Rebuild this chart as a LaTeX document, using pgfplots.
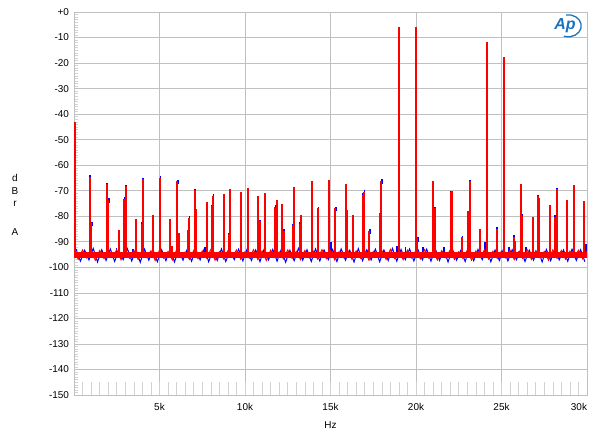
\documentclass[border=0pt]{standalone}
\usepackage{pgfplots}
\pgfplotsset{compat=1.18}
\usepackage{pgfplotstable}
\usepackage{fontspec}
\setmainfont{Liberation Sans}
\definecolor{apblue}{RGB}{25,115,190}
\definecolor{gridgray}{RGB}{192,192,192}
\definecolor{minorgray}{RGB}{210,210,210}
\definecolor{tracered}{RGB}{255,0,0}
\definecolor{traceblue}{RGB}{0,0,255}

\pgfplotstableread[row sep=\\]{
f dB\\
0 -93.6\\ 0.25 -96.8\\ 0.5 -93.2\\ 0.75 -96.3\\ 1 -94.0\\ 1.25 -97.2\\ 1.5 -93.4\\ 1.75 -96.6\\ 2 -93.9\\ 2.25 -96.1\\
2.5 -93.1\\ 2.75 -97.0\\ 3 -93.7\\ 3.25 -96.4\\ 3.5 -93.3\\ 3.75 -96.9\\ 4 -94.1\\ 4.25 -96.2\\ 4.5 -93.5\\ 4.75 -97.3\\
5 -93.3\\ 5.25 -96.5\\ 5.5 -93.8\\ 5.75 -97.1\\ 6 -93.2\\ 6.25 -96.2\\ 6.5 -94.0\\ 6.75 -96.9\\ 7 -93.4\\ 7.25 -96.6\\
7.5 -93.6\\ 7.75 -96.3\\ 8 -93.1\\ 8.25 -97.2\\ 8.5 -93.9\\ 8.75 -96.7\\ 9 -93.5\\ 9.25 -96.0\\ 9.5 -93.2\\ 9.75 -96.8\\
10 -93.9\\ 10.25 -96.4\\ 10.5 -93.1\\ 10.75 -96.9\\ 11 -93.6\\ 11.25 -97.3\\ 11.5 -93.3\\ 11.75 -96.1\\ 12 -94.0\\ 12.25 -96.7\\
12.5 -93.2\\ 12.75 -96.5\\ 13 -93.8\\ 13.25 -97.0\\ 13.5 -93.4\\ 13.75 -96.3\\ 14 -93.7\\ 14.25 -96.8\\ 14.5 -93.1\\ 14.75 -96.6\\
15 -93.5\\ 15.25 -97.1\\ 15.5 -93.9\\ 15.75 -96.2\\ 16 -93.2\\ 16.25 -96.8\\ 16.5 -93.6\\ 16.75 -96.4\\ 17 -93.3\\ 17.25 -97.2\\
17.5 -93.8\\ 17.75 -96.1\\ 18 -93.4\\ 18.25 -96.9\\ 18.5 -93.0\\ 18.75 -96.5\\ 19 -93.7\\ 19.25 -97.0\\ 19.5 -93.3\\ 19.75 -96.3\\
20 -93.4\\ 20.25 -96.7\\ 20.5 -93.1\\ 20.75 -96.4\\ 21 -93.8\\ 21.25 -97.1\\ 21.5 -93.5\\ 21.75 -96.2\\ 22 -93.2\\ 22.25 -96.9\\
22.5 -93.9\\ 22.75 -96.6\\ 23 -93.3\\ 23.25 -97.2\\ 23.5 -93.6\\ 23.75 -96.1\\ 24 -93.2\\ 24.25 -96.8\\ 24.5 -93.7\\ 24.75 -96.5\\
25 -93.6\\ 25.25 -96.3\\ 25.5 -93.3\\ 25.75 -97.0\\ 26 -93.9\\ 26.25 -96.6\\ 26.5 -93.1\\ 26.75 -96.9\\ 27 -93.5\\ 27.25 -96.2\\
27.5 -93.8\\ 27.75 -97.2\\ 28 -93.2\\ 28.25 -96.5\\ 28.5 -93.4\\ 28.75 -96.8\\ 29 -93.7\\ 29.25 -96.1\\ 29.5 -93.3\\ 29.75 -96.7\\
30 -93.5\\
}\redfloor

\pgfplotstableread[row sep=\\]{
f dB\\
0.125 -92.9\\ 0.375 -97.6\\ 0.625 -93.3\\ 0.875 -97.1\\ 1.125 -92.6\\ 1.375 -97.9\\ 1.625 -93.1\\ 1.875 -97.3\\ 2.125 -92.8\\ 2.375 -97.7\\
2.625 -93.4\\ 2.875 -97.0\\ 3.125 -92.7\\ 3.375 -97.5\\ 3.625 -93.0\\ 3.875 -98.0\\ 4.125 -92.9\\ 4.375 -97.2\\ 4.625 -93.2\\ 4.875 -97.8\\
5.125 -93.1\\ 5.375 -97.4\\ 5.625 -92.7\\ 5.875 -97.9\\ 6.125 -93.3\\ 6.375 -97.2\\ 6.625 -92.9\\ 6.875 -97.6\\ 7.125 -93.0\\ 7.375 -97.1\\
7.625 -92.6\\ 7.875 -97.8\\ 8.125 -93.2\\ 8.375 -97.3\\ 8.625 -92.8\\ 8.875 -97.7\\ 9.125 -93.4\\ 9.375 -97.0\\ 9.625 -92.9\\ 9.875 -97.5\\
10.125 -92.8\\ 10.375 -97.3\\ 10.625 -93.2\\ 10.875 -97.8\\ 11.125 -92.7\\ 11.375 -97.1\\ 11.625 -93.0\\ 11.875 -97.6\\ 12.125 -92.9\\ 12.375 -98.0\\
12.625 -93.3\\ 12.875 -97.4\\ 13.125 -92.6\\ 13.375 -97.2\\ 13.625 -93.1\\ 13.875 -97.7\\ 14.125 -92.8\\ 14.375 -97.5\\ 14.625 -93.2\\ 14.875 -97.0\\
15.125 -93.0\\ 15.375 -97.7\\ 15.625 -92.8\\ 15.875 -97.2\\ 16.125 -93.3\\ 16.375 -97.9\\ 16.625 -92.7\\ 16.875 -97.4\\ 17.125 -93.1\\ 17.375 -97.1\\
17.625 -92.9\\ 17.875 -97.8\\ 18.125 -93.2\\ 18.375 -97.3\\ 18.625 -92.6\\ 18.875 -97.6\\ 19.125 -93.0\\ 19.375 -97.0\\ 19.625 -92.8\\ 19.875 -97.5\\
20.125 -93.2\\ 20.375 -97.1\\ 20.625 -92.9\\ 20.875 -97.6\\ 21.125 -92.7\\ 21.375 -97.3\\ 21.625 -93.1\\ 21.875 -97.9\\ 22.125 -92.8\\ 22.375 -97.2\\
22.625 -93.3\\ 22.875 -97.7\\ 23.125 -92.6\\ 23.375 -97.4\\ 23.625 -93.0\\ 23.875 -97.0\\ 24.125 -92.9\\ 24.375 -97.8\\ 24.625 -93.2\\ 24.875 -97.3\\
25.125 -92.7\\ 25.375 -97.5\\ 25.625 -93.1\\ 25.875 -97.0\\ 26.125 -92.9\\ 26.375 -97.7\\ 26.625 -93.3\\ 26.875 -97.2\\ 27.125 -92.8\\ 27.375 -97.9\\
27.625 -93.0\\ 27.875 -97.4\\ 28.125 -92.6\\ 28.375 -97.1\\ 28.625 -93.2\\ 28.875 -97.6\\ 29.125 -92.9\\ 29.375 -97.3\\ 29.625 -93.1\\ 29.875 -97.8\\
}\bluefloor

% red spikes: each a vertical segment (f,-95)--(f,peak), separated by nan
\pgfplotstableread[row sep=\\]{
f dB\\
0.05 -95\\ 0.05 -43.0\\ 0.05 nan\\
0.91 -95\\ 0.91 -64.5\\ 0.91 nan\\
1.01 -95\\ 1.01 -82.8\\ 1.01 nan\\
1.93 -95\\ 1.93 -67.5\\ 1.93 nan\\
2.01 -95\\ 2.01 -73.6\\ 2.01 nan\\
2.62 -95\\ 2.62 -85.4\\ 2.62 nan\\
2.93 -95\\ 2.93 -73.2\\ 2.93 nan\\
3.04 -95\\ 3.04 -68.3\\ 3.04 nan\\
3.63 -95\\ 3.63 -81.1\\ 3.63 nan\\
3.96 -95\\ 3.96 -83.0\\ 3.96 nan\\
4.02 -95\\ 4.02 -65.5\\ 4.02 nan\\
4.64 -95\\ 4.64 -79.5\\ 4.64 nan\\
5.04 -95\\ 5.04 -64.9\\ 5.04 nan\\
5.64 -95\\ 5.64 -80.9\\ 5.64 nan\\
5.72 -95\\ 5.72 -91.5\\ 5.72 nan\\
6.05 -95\\ 6.05 -66.2\\ 6.05 nan\\
6.13 -95\\ 6.13 -86.7\\ 6.13 nan\\
6.66 -95\\ 6.66 -85.4\\ 6.66 nan\\
6.73 -95\\ 6.73 -80.5\\ 6.73 nan\\
7.07 -95\\ 7.07 -69.7\\ 7.07 nan\\
7.15 -95\\ 7.15 -77.3\\ 7.15 nan\\
7.75 -95\\ 7.75 -74.3\\ 7.75 nan\\
8.06 -95\\ 8.06 -76.0\\ 8.06 nan\\
8.14 -95\\ 8.14 -71.9\\ 8.14 nan\\
8.77 -95\\ 8.77 -71.3\\ 8.77 nan\\
9.06 -95\\ 9.06 -87.1\\ 9.06 nan\\
9.15 -95\\ 9.15 -69.3\\ 9.15 nan\\
9.77 -95\\ 9.77 -70.6\\ 9.77 nan\\
10.17 -95\\ 10.17 -69.1\\ 10.17 nan\\
10.78 -95\\ 10.78 -72.1\\ 10.78 nan\\
10.86 -95\\ 10.86 -81.9\\ 10.86 nan\\
11.19 -95\\ 11.19 -70.9\\ 11.19 nan\\
11.78 -95\\ 11.78 -76.3\\ 11.78 nan\\
11.88 -95\\ 11.88 -73.6\\ 11.88 nan\\
12.19 -95\\ 12.19 -75.2\\ 12.19 nan\\
12.28 -95\\ 12.28 -85.7\\ 12.28 nan\\
12.81 -95\\ 12.81 -83.6\\ 12.81 nan\\
12.89 -95\\ 12.89 -68.7\\ 12.89 nan\\
13.20 -95\\ 13.20 -83.0\\ 13.20 nan\\
13.28 -95\\ 13.28 -79.5\\ 13.28 nan\\
13.89 -95\\ 13.89 -66.2\\ 13.89 nan\\
14.28 -95\\ 14.28 -76.9\\ 14.28 nan\\
14.90 -95\\ 14.90 -65.9\\ 14.90 nan\\
15.28 -95\\ 15.28 -76.9\\ 15.28 nan\\
15.88 -95\\ 15.88 -67.5\\ 15.88 nan\\
15.98 -95\\ 15.98 -77.5\\ 15.98 nan\\
16.29 -95\\ 16.29 -79.5\\ 16.29 nan\\
16.89 -95\\ 16.89 -71.6\\ 16.89 nan\\
16.97 -95\\ 16.97 -70.4\\ 16.97 nan\\
17.28 -95\\ 17.28 -85.7\\ 17.28 nan\\
17.89 -95\\ 17.89 -78.7\\ 17.89 nan\\
17.97 -95\\ 17.97 -66.1\\ 17.97 nan\\
19.00 -95\\ 19.00 -5.7\\ 19.00 nan\\
20.00 -95\\ 20.00 -5.7\\ 20.00 nan\\
20.08 -95\\ 20.08 -88.7\\ 20.08 nan\\
21.02 -95\\ 21.02 -66.2\\ 21.02 nan\\
21.10 -95\\ 21.10 -76.9\\ 21.10 nan\\
22.04 -95\\ 22.04 -70.5\\ 22.04 nan\\
22.11 -95\\ 22.11 -70.2\\ 22.11 nan\\
22.70 -95\\ 22.70 -88.3\\ 22.70 nan\\
23.03 -95\\ 23.03 -77.8\\ 23.03 nan\\
23.13 -95\\ 23.13 -66.2\\ 23.13 nan\\
23.72 -95\\ 23.72 -85.0\\ 23.72 nan\\
24.13 -95\\ 24.13 -11.8\\ 24.13 nan\\
24.73 -95\\ 24.73 -85.0\\ 24.73 nan\\
25.12 -95\\ 25.12 -17.6\\ 25.12 nan\\
25.73 -95\\ 25.73 -88.3\\ 25.73 nan\\
25.80 -95\\ 25.80 -89.5\\ 25.80 nan\\
26.12 -95\\ 26.12 -67.4\\ 26.12 nan\\
26.21 -95\\ 26.21 -79.8\\ 26.21 nan\\
26.82 -95\\ 26.82 -80.4\\ 26.82 nan\\
27.13 -95\\ 27.13 -72.1\\ 27.13 nan\\
27.21 -95\\ 27.21 -73.0\\ 27.21 nan\\
27.82 -95\\ 27.82 -75.6\\ 27.82 nan\\
28.13 -95\\ 28.13 -80.1\\ 28.13 nan\\
28.23 -95\\ 28.23 -69.3\\ 28.23 nan\\
28.83 -95\\ 28.83 -73.6\\ 28.83 nan\\
29.24 -95\\ 29.24 -67.8\\ 29.24 nan\\
29.83 -95\\ 29.83 -74.0\\ 29.83 nan\\
}\redspikes

% blue channel: small caps just above the red tops, plus spurs near the floor
\pgfplotstableread[row sep=\\]{
f dB\\
0.93 -66.0\\ 0.93 -64.0\\ 0.93 nan\\
1.03 -84.0\\ 1.03 -82.2\\ 1.03 nan\\
1.95 -69.0\\ 1.95 -67.0\\ 1.95 nan\\
2.03 -75.0\\ 2.03 -73.0\\ 2.03 nan\\
2.48 -95\\ 2.48 -92.3\\ 2.48 nan\\
2.95 -74.5\\ 2.95 -72.6\\ 2.95 nan\\
3.06 -69.5\\ 3.06 -67.8\\ 3.06 nan\\
3.47 -95\\ 3.47 -92.8\\ 3.47 nan\\
3.98 -84.0\\ 3.98 -82.4\\ 3.98 nan\\
4.04 -67.0\\ 4.04 -65.0\\ 4.04 nan\\
5.06 -66.0\\ 5.06 -64.4\\ 5.06 nan\\
6.07 -67.5\\ 6.07 -65.7\\ 6.07 nan\\
6.75 -82.0\\ 6.75 -80.0\\ 6.75 nan\\
7.09 -71.0\\ 7.09 -69.2\\ 7.09 nan\\
7.65 -95\\ 7.65 -92.0\\ 7.65 nan\\
8.08 -77.0\\ 8.08 -75.4\\ 8.08 nan\\
8.16 -73.0\\ 8.16 -71.4\\ 8.16 nan\\
9.06 -95\\ 9.06 -86.5\\ 9.06 nan\\
10.88 -83.0\\ 10.88 -81.3\\ 10.88 nan\\
11.80 -77.5\\ 11.80 -75.7\\ 11.80 nan\\
12.30 -87.0\\ 12.30 -85.0\\ 12.30 nan\\
12.83 -85.0\\ 12.83 -83.0\\ 12.83 nan\\
13.22 -84.0\\ 13.22 -82.4\\ 13.22 nan\\
14.30 -78.0\\ 14.30 -76.3\\ 14.30 nan\\
15.04 -95\\ 15.04 -90.0\\ 15.04 nan\\
15.30 -78.0\\ 15.30 -76.3\\ 15.30 nan\\
16.91 -73.0\\ 16.91 -71.0\\ 16.91 nan\\
16.99 -71.5\\ 16.99 -69.9\\ 16.99 nan\\
17.30 -87.0\\ 17.30 -85.1\\ 17.30 nan\\
17.99 -67.5\\ 17.99 -65.6\\ 17.99 nan\\
18.89 -95\\ 18.89 -91.5\\ 18.89 nan\\
19.39 -95\\ 19.39 -92.0\\ 19.39 nan\\
20.10 -90.0\\ 20.10 -88.0\\ 20.10 nan\\
20.41 -95\\ 20.41 -92.0\\ 20.41 nan\\
21.12 -78.0\\ 21.12 -76.3\\ 21.12 nan\\
21.62 -95\\ 21.62 -92.0\\ 21.62 nan\\
22.06 -72.0\\ 22.06 -70.0\\ 22.06 nan\\
22.72 -89.5\\ 22.72 -87.7\\ 22.72 nan\\
23.15 -67.5\\ 23.15 -65.7\\ 23.15 nan\\
24.03 -95\\ 24.03 -90.0\\ 24.03 nan\\
24.75 -86.0\\ 24.75 -84.4\\ 24.75 nan\\
25.43 -95\\ 25.43 -92.0\\ 25.43 nan\\
25.75 -89.5\\ 25.75 -87.4\\ 25.75 nan\\
26.23 -81.0\\ 26.23 -79.2\\ 26.23 nan\\
26.41 -95\\ 26.41 -92.0\\ 26.41 nan\\
27.15 -73.5\\ 27.15 -71.6\\ 27.15 nan\\
28.15 -81.5\\ 28.15 -79.5\\ 28.15 nan\\
28.25 -70.5\\ 28.25 -68.8\\ 28.25 nan\\
29.93 -95\\ 29.93 -91.0\\ 29.93 nan\\
}\bluespikes

\begin{document}
\begin{tikzpicture}
\path[use as bounding box] (0,0) rectangle (600bp,436bp);
\begin{axis}[
  at={(74bp,41bp)}, anchor=south west,
  scale only axis, width=513bp, height=383bp,
  xmin=0, xmax=30, ymin=-150, ymax=0,
  xtick={5,10,15,20,25,30},
  xticklabels={5k,10k,15k,20k,25k,\llap{30k}},
  ytick={-150,-140,-130,-120,-110,-100,-90,-80,-70,-60,-50,-40,-30,-20,-10,0},
  yticklabels={-150,-140,-130,-120,-110,-100,-90,-80,-70,-60,-50,-40,-30,-20,-10,+0},
  minor y tick num=9,
  ytick pos=left,
  xtick pos=left,
  grid=major,
  major grid style={gridgray, line width=0.7bp},
  axis line style={gridgray, line width=0.8bp},
  major tick length=0pt,
  minor tick length=4bp,
  minor tick style={minorgray, line width=0.5bp},
  tick align=inside,
  yticklabel style={font=\fontsize{10}{12}\selectfont, xshift=-1.5bp},
  xticklabel style={font=\fontsize{10}{12}\selectfont, yshift=-5bp},
  xlabel={Hz},
  xlabel style={font=\fontsize{10}{12}\selectfont, yshift=-4bp},
  unbounded coords=jump,
]
\pgfplotsinvokeforeach{0.5,1,...,29.5}{\draw[minorgray, line width=0.6bp] (axis cs:#1,-150) -- (axis cs:#1,-145);}
\addplot[traceblue, line width=1bp] table[x=f, y=dB]{\bluefloor};
\addplot[traceblue, line width=1.8bp, line cap=butt] table[x=f, y=dB]{\bluespikes};
\addplot[draw=none, fill=tracered] coordinates {(0,-93.9) (30,-93.9) (30,-96.2) (0,-96.2)} -- cycle;
\addplot[tracered, line width=1bp] table[x=f, y=dB]{\redfloor};
\addplot[tracered, line width=2bp, line cap=butt] table[x=f, y=dB]{\redspikes};
\end{axis}
\node[align=center, font=\fontsize{10}{12.5}\selectfont, inner sep=0pt] at (15bp,231bp) {d\\B\\r\\[16.5bp]A};
\node[text=apblue, font=\fontsize{16}{16}\selectfont\bfseries\itshape, inner sep=0pt] at (565bp,410bp) {Ap};
\draw[apblue, line width=1.3bp] (566bp,421bp) arc[start angle=100, end angle=-110, x radius=13bp, y radius=11bp];
\end{tikzpicture}
\end{document}
